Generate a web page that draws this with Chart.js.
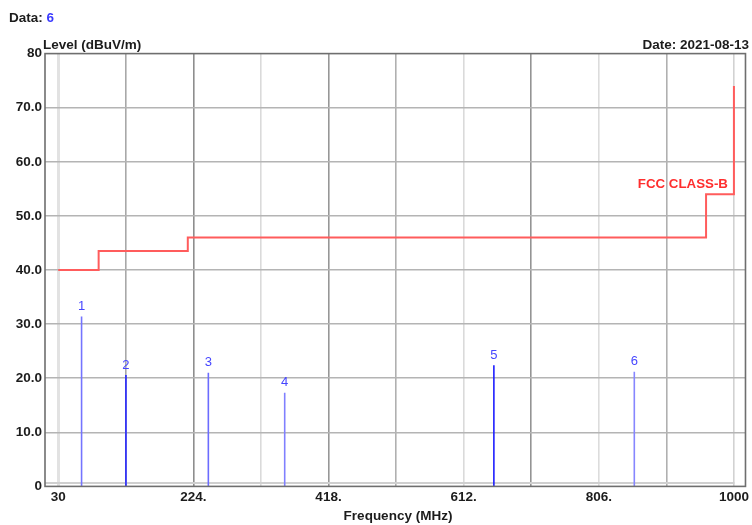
<!DOCTYPE html>
<html>
<head>
<meta charset="utf-8">
<title>FCC Class-B scan</title>
<script src="https://cdn.jsdelivr.net/npm/chart.js@4"></script>
<style>
  html, body { margin: 0; padding: 0; background: #fff; }
  #wrap { width: 752px; height: 525px; }
</style>
</head>
<body>
<div id="wrap"><canvas id="scanChart" width="752" height="525"></canvas></div>
<script>
// Axis ticks
const freqTicks = [30, 127, 224, 321, 418, 515, 612, 709, 806, 903, 1000];
const freqTickLabels = ['30', '', '224.', '', '418.', '', '612.', '', '806.', '', '1000'];
const levelTicks = [0, 10, 20, 30, 40, 50, 60, 70, 80];
const levelTickLabels = ['0', '10.0', '20.0', '30.0', '40.0', '50.0', '60.0', '70.0', '80'];

// Limit line (stepped: level holds until the next frequency)
const limitName = 'FCC CLASS-B';
const limitFreq = [30, 88, 216, 960, 1000];
const limitLevel = [40, 43.5, 46, 54, 74];

// Measured peaks
const markerNo = ['1', '2', '3', '4', '5', '6'];
const markerFreq = [63.5, 127.2, 245.5, 355.1, 655.4, 857];
const markerLevel = [31.4, 20.6, 21.0, 17.3, 22.4, 21.2];

const dataCount = '6';
const reportDate = 'Date: 2021-08-13';

const FONT = '"Liberation Sans", Arial, sans-serif';
const TEXT = '#1c1c1c';
const markerColors = ['#7474ff', '#2424ff', '#6c6cff', '#8080ff', '#1e1eff', '#8686ff'];
const gridShades = ['#e2e2e2', '#a8a8a8', '#8e8e8e', '#dadada', '#979797', '#b0b0b0',
                    '#dadada', '#949494', '#dcdcdc', '#b0b0b0', '#d2d2d2'];

const datasets = [{
  label: limitName,
  data: limitFreq.map((f, i) => ({ x: f, y: limitLevel[i] })),
  stepped: 'before',
  borderColor: '#ff5c5c',
  borderWidth: 2,
  pointRadius: 0,
  fill: false,
}];
markerFreq.forEach((f, i) => {
  datasets.push({
    label: markerNo[i],
    data: [{ x: f, y: 0 }, { x: f, y: markerLevel[i] }],
    borderColor: markerColors[i],
    borderWidth: 1.6,
    pointRadius: 0,
    fill: false,
  });
});

// frame, inner border line, marker numbers and header texts
const decor = {
  id: 'decor',
  beforeDatasetsDraw(chart) {
    const { ctx, chartArea: a } = chart;
    ctx.save();
    ctx.strokeStyle = '#cfcfcf';
    ctx.lineWidth = 2;
    ctx.beginPath();
    ctx.moveTo(a.left, a.bottom - 3.5);
    ctx.lineTo(a.right - 11, a.bottom - 3.5);
    ctx.stroke();
    ctx.restore();
  },
  afterDatasetsDraw(chart) {
    const { ctx, chartArea: a, scales } = chart;
    ctx.save();
    ctx.strokeStyle = '#6e6e6e';
    ctx.lineWidth = 1.6;
    ctx.strokeRect(a.left, a.top, a.right - a.left, a.bottom - a.top);

    // peak numbers
    ctx.font = '13px ' + FONT;
    ctx.fillStyle = '#4646ff';
    ctx.textAlign = 'center';
    ctx.textBaseline = 'middle';
    markerFreq.forEach((f, i) => {
      const x = scales.x.getPixelForValue(f);
      const y = scales.y.getPixelForValue(markerLevel[i]);
      ctx.fillText(markerNo[i], x, y - 10);
    });

    // limit name
    const n = limitFreq.length;
    ctx.font = 'bold 13.3px ' + FONT;
    ctx.fillStyle = '#ff2e2e';
    ctx.textAlign = 'right';
    ctx.textBaseline = 'alphabetic';
    ctx.fillText(limitName, scales.x.getPixelForValue(limitFreq[n - 1]) - 6,
      scales.y.getPixelForValue(limitLevel[n - 2]) - 6);
    ctx.restore();
  },
  afterDraw(chart) {
    const { ctx } = chart;
    ctx.save();
    ctx.font = 'bold 13.5px ' + FONT;
    ctx.textBaseline = 'alphabetic';
    ctx.fillStyle = TEXT;
    ctx.textAlign = 'left';
    ctx.fillText('Data:', 9, 22);
    const w = ctx.measureText('Data: ').width;
    ctx.fillStyle = '#3a3aff';
    ctx.fillText(dataCount, 9 + w, 22);
    ctx.fillStyle = TEXT;
    ctx.fillText('Level (dBuV/m)', 43, 49);
    ctx.textAlign = 'right';
    ctx.fillText(reportDate, 749, 49);
    ctx.textAlign = 'center';
    ctx.fillText('Frequency (MHz)', 398, 520);
    ctx.restore();
  }
};

new Chart(document.getElementById('scanChart'), {
  type: 'line',
  data: { datasets },
  plugins: [decor],
  options: {
    responsive: false,
    animation: false,
    layout: { padding: { top: 53.6, right: 3.7, bottom: 0, left: 0 } },
    plugins: { legend: { display: false }, tooltip: { enabled: false } },
    scales: {
      x: {
        type: 'linear',
        min: 11,
        max: 1016.6,
        afterFit: s => { s.height = 38.6; },
        afterBuildTicks: s => { s.ticks = freqTicks.map(v => ({ value: v })); },
        border: { display: false },
        grid: {
          drawTicks: false,
          color: c => gridShades[c.index] || '#b0b0b0',
          lineWidth: c => (c.index === 0 ? 3 : 1.6),
        },
        ticks: {
          autoSkip: false,
          maxRotation: 0,
          padding: 3,
          color: TEXT,
          font: { family: FONT, size: 13.5, weight: 'bold' },
          callback: (v, i) => freqTickLabels[i],
        },
      },
      y: {
        min: 0,
        max: 80,
        afterFit: s => { s.width = 45; },
        afterBuildTicks: s => { s.ticks = levelTicks.map(v => ({ value: v })); },
        border: { display: false },
        grid: {
          drawTicks: false,
          color: c => (c.tick && (c.tick.value === 0 || c.tick.value === 80) ? 'rgba(0,0,0,0)' : '#b4b4b4'),
          lineWidth: 1.6,
        },
        ticks: {
          padding: 3,
          color: TEXT,
          font: { family: FONT, size: 13.5, weight: 'bold' },
          callback: (v, i) => levelTickLabels[i],
        },
      },
    },
  },
});
</script>
</body>
</html>
